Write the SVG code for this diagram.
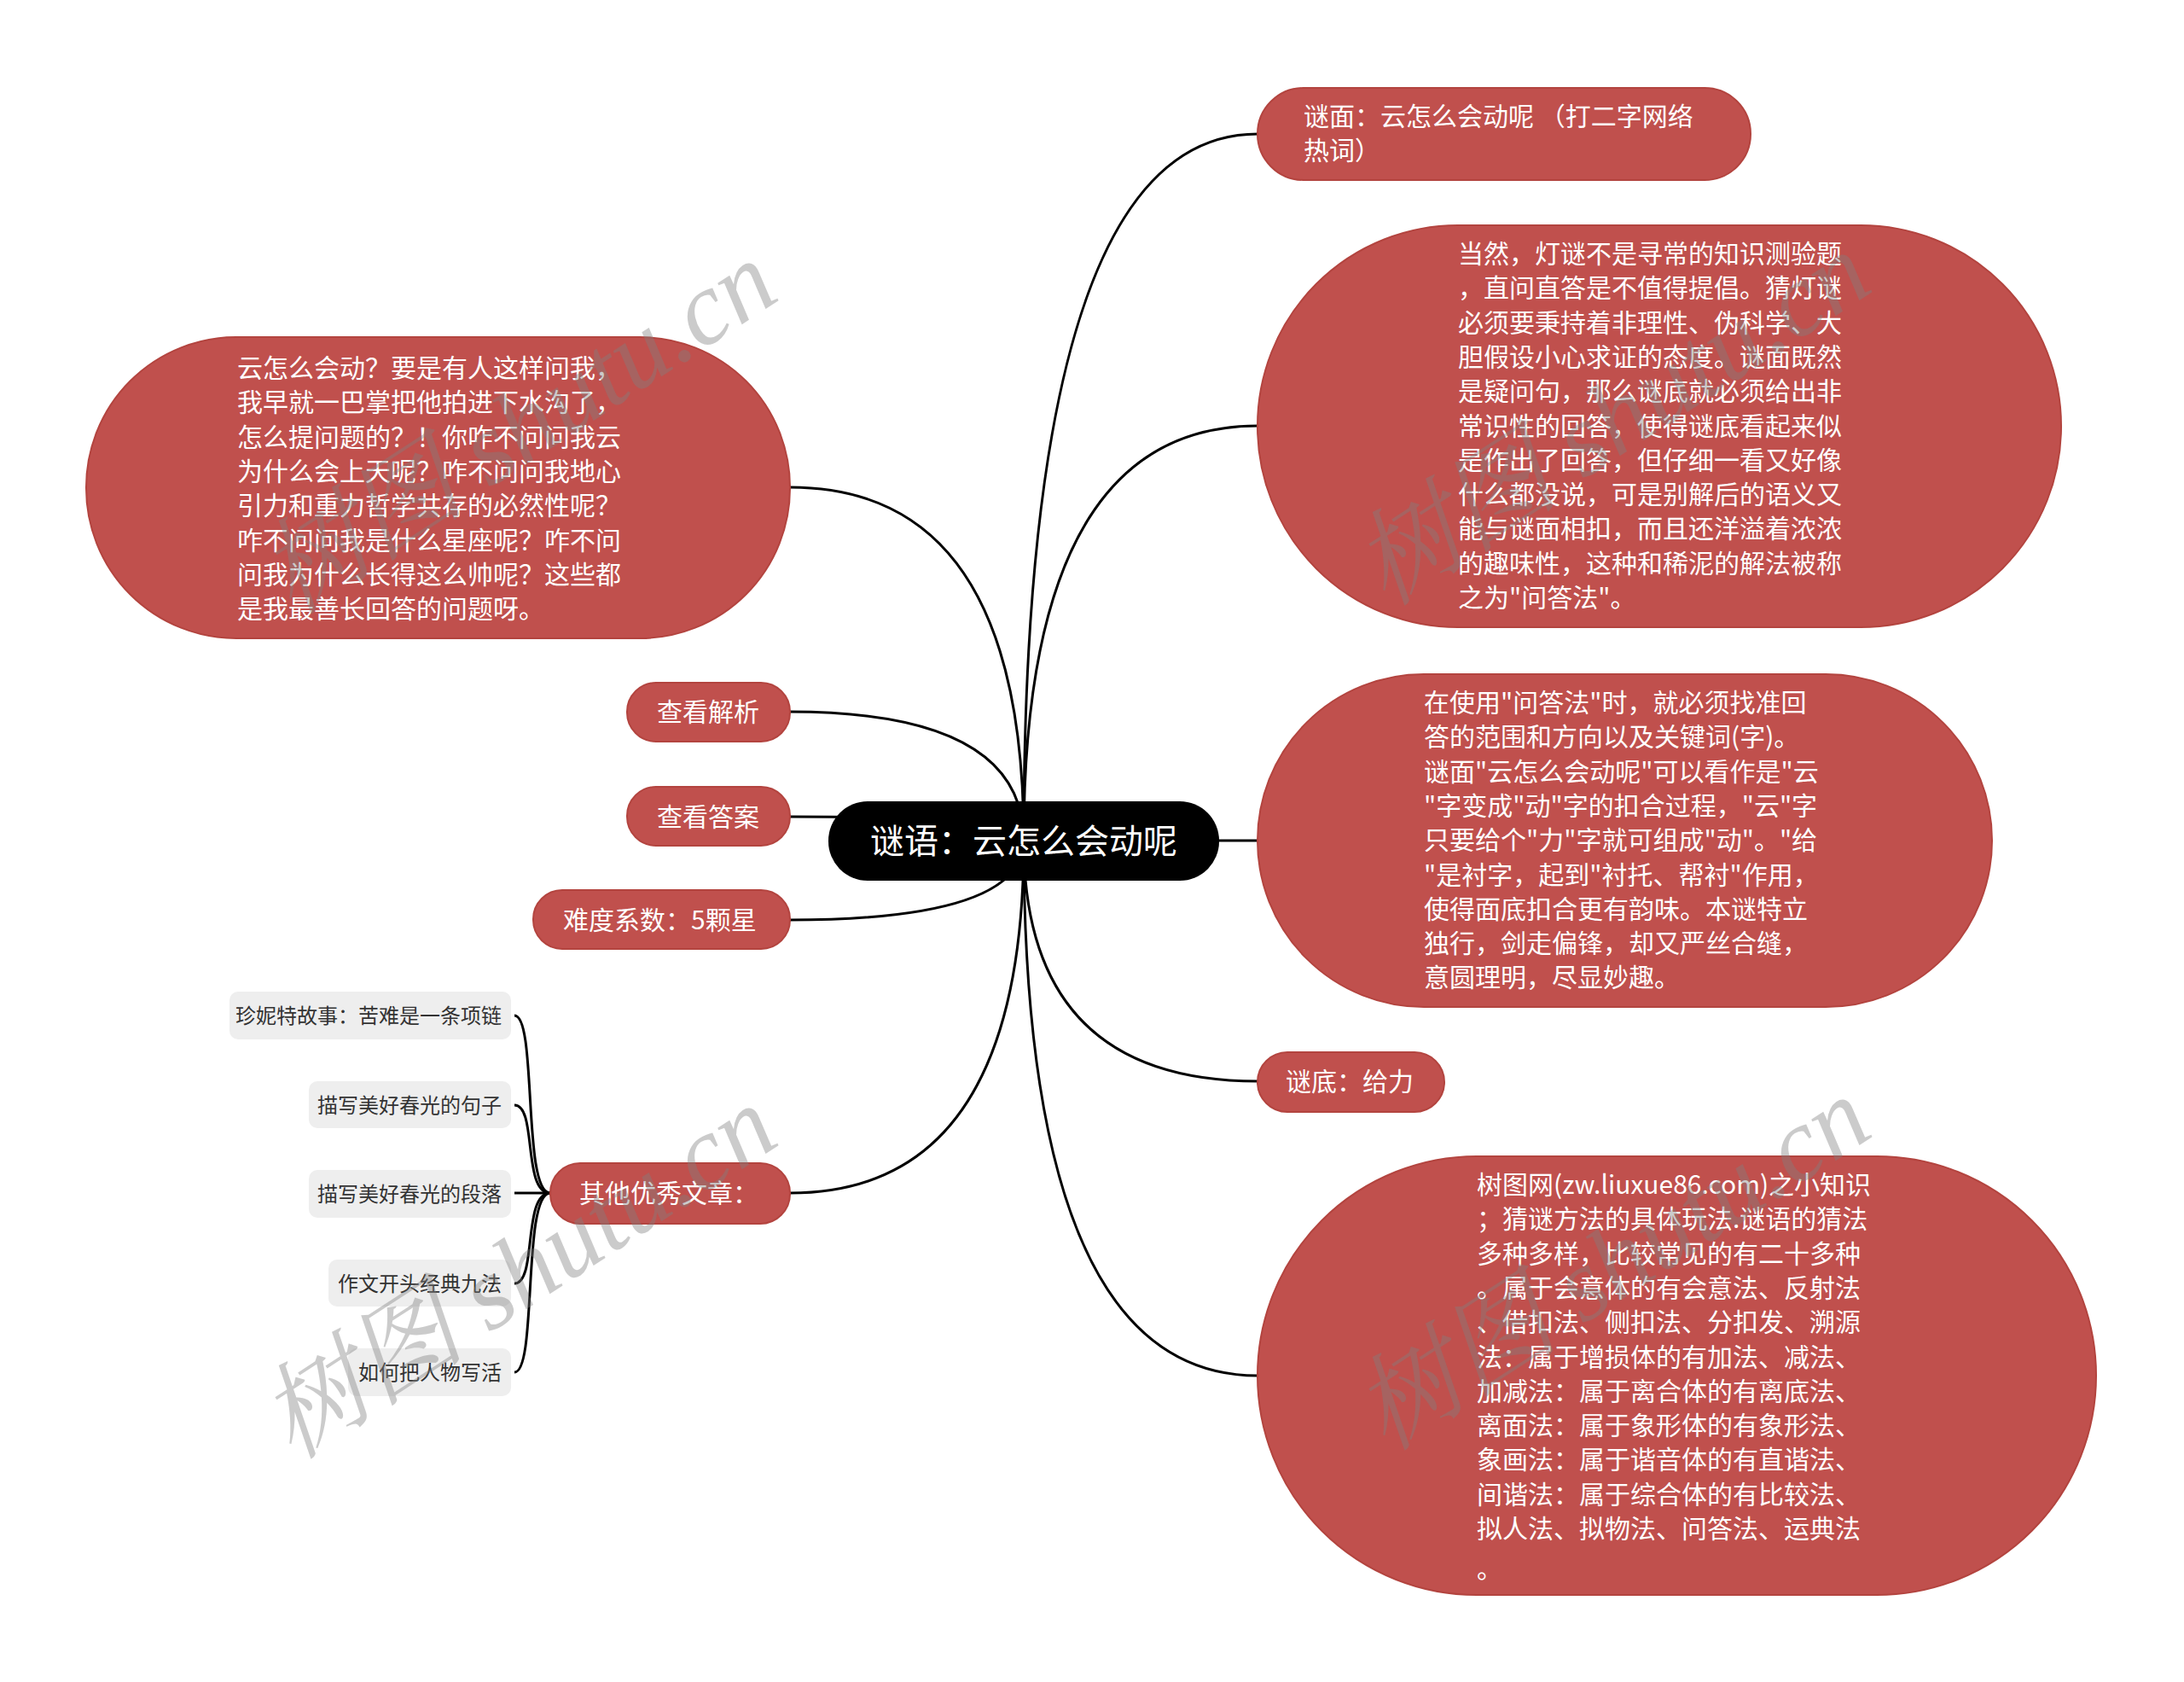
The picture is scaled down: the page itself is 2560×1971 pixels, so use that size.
<svg xmlns="http://www.w3.org/2000/svg" width="2560" height="1971" viewBox="0 0 2560 1971">
<style>
.bg{fill:#ffffff}
.red{fill:#c0504d;stroke:#b3443f;stroke-width:2}
.root{fill:#000000}
.leaf{fill:#eeeeee}
.conn{fill:none;stroke:#000000;stroke-width:3}
.t{font-family:"Noto Sans CJK SC","Microsoft YaHei","Liberation Sans",sans-serif;fill:#ffffff;font-size:30px}
.tr{font-family:"Noto Sans CJK SC","Microsoft YaHei","Liberation Sans",sans-serif;fill:#ffffff;font-size:40px}
.tl{font-family:"Noto Sans CJK SC","Microsoft YaHei","Liberation Sans",sans-serif;fill:#333333;font-size:24px}
.wm{font-family:"Liberation Serif","Noto Serif CJK SC","Noto Sans CJK SC",serif;font-style:italic;font-size:122px;fill:#808080;opacity:0.4}
</style>
<rect class="bg" x="0" y="0" width="2560" height="1971"/>
<g id="connectors">
<path class="conn" d="M1200,985 Q1200,157 1474,157"/>
<path class="conn" d="M1200,985 Q1200,499 1474,499"/>
<path class="conn" d="M1200,985 L1474,985"/>
<path class="conn" d="M1200,985 Q1200,1267 1474,1267"/>
<path class="conn" d="M1200,985 Q1200,1612 1474,1612"/>
<path class="conn" d="M1200,985 Q1200,571 926,571"/>
<path class="conn" d="M1200,985 Q1200,834 926,834"/>
<path class="conn" d="M1200,985 Q1200,957 926,957"/>
<path class="conn" d="M1200,985 Q1200,1078 926,1078"/>
<path class="conn" d="M1200,985 Q1200,1398 926,1398"/>
<path class="conn" d="M645,1398 C612,1398 630,1190 603,1190"/>
<path class="conn" d="M645,1398 C612,1398 630,1295 603,1295"/>
<path class="conn" d="M645,1398 L603,1398"/>
<path class="conn" d="M645,1398 C612,1398 630,1504 603,1504"/>
<path class="conn" d="M645,1398 C612,1398 630,1608 603,1608"/>
</g>
<g id="root">
<rect class="root" x="971" y="939" width="458" height="93" rx="46"/>
<text class="tr" x="1200" y="1000" text-anchor="middle">谜语：云怎么会动呢</text>
</g>
<g id="n-mimian">
<rect class="red" x="1474" y="103" width="578" height="108" rx="54"/>
<text class="t" x="1528" y="147">谜面：云怎么会动呢 （打二字网络</text>
<text class="t" x="1528" y="187">热词）</text>
</g>
<g id="n-dangran">
<rect class="red" x="1474" y="264" width="942" height="471" rx="235"/>
<text class="t" x="1709" y="308">当然，灯谜不是寻常的知识测验题</text>
<text class="t" x="1709" y="348.3">，直问直答是不值得提倡。猜灯谜</text>
<text class="t" x="1709" y="388.6">必须要秉持着非理性、伪科学、大</text>
<text class="t" x="1709" y="428.9">胆假设小心求证的态度。谜面既然</text>
<text class="t" x="1709" y="469.2">是疑问句，那么谜底就必须给出非</text>
<text class="t" x="1709" y="509.5">常识性的回答，使得谜底看起来似</text>
<text class="t" x="1709" y="549.8">是作出了回答，但仔细一看又好像</text>
<text class="t" x="1709" y="590.1">什么都没说，可是别解后的语义又</text>
<text class="t" x="1709" y="630.4">能与谜面相扣，而且还洋溢着浓浓</text>
<text class="t" x="1709" y="670.7">的趣味性，这种和稀泥的解法被称</text>
<text class="t" x="1709" y="711">之为"问答法"。</text>
</g>
<g id="n-shiyong">
<rect class="red" x="1474" y="790" width="861" height="390" rx="195"/>
<text class="t" x="1669" y="834">在使用"问答法"时，就必须找准回</text>
<text class="t" x="1669" y="874.3">答的范围和方向以及关键词(字)。</text>
<text class="t" x="1669" y="914.6">谜面"云怎么会动呢"可以看作是"云</text>
<text class="t" x="1669" y="954.9">"字变成"动"字的扣合过程，"云"字</text>
<text class="t" x="1669" y="995.2">只要给个"力"字就可组成"动"。"给</text>
<text class="t" x="1669" y="1035.5">"是衬字，起到"衬托、帮衬"作用，</text>
<text class="t" x="1669" y="1075.8">使得面底扣合更有韵味。本谜特立</text>
<text class="t" x="1669" y="1116.1">独行，剑走偏锋，却又严丝合缝，</text>
<text class="t" x="1669" y="1156.4">意圆理明，尽显妙趣。</text>
</g>
<g id="n-midi">
<rect class="red" x="1474" y="1233" width="219" height="70" rx="35"/>
<text class="t" x="1507" y="1278">谜底：给力</text>
</g>
<g id="n-shutu">
<rect class="red" x="1474" y="1355" width="983" height="514" rx="257"/>
<text class="t" x="1731" y="1399">树图网(zw.liuxue86.com)之小知识</text>
<text class="t" x="1731" y="1439.3">；猜谜方法的具体玩法.谜语的猜法</text>
<text class="t" x="1731" y="1479.6">多种多样，比较常见的有二十多种</text>
<text class="t" x="1731" y="1519.9">。属于会意体的有会意法、反射法</text>
<text class="t" x="1731" y="1560.2">、借扣法、侧扣法、分扣发、溯源</text>
<text class="t" x="1731" y="1600.5">法：属于增损体的有加法、减法、</text>
<text class="t" x="1731" y="1640.8">加减法：属于离合体的有离底法、</text>
<text class="t" x="1731" y="1681.1">离面法：属于象形体的有象形法、</text>
<text class="t" x="1731" y="1721.4">象画法：属于谐音体的有直谐法、</text>
<text class="t" x="1731" y="1761.7">间谐法：属于综合体的有比较法、</text>
<text class="t" x="1731" y="1802">拟人法、拟物法、问答法、运典法</text>
<text class="t" x="1731" y="1849">。</text>
</g>
<g id="n-yun">
<rect class="red" x="101" y="395" width="825" height="353" rx="176"/>
<text class="t" x="278" y="442">云怎么会动？要是有人这样问我，</text>
<text class="t" x="278" y="482.3">我早就一巴掌把他拍进下水沟了，</text>
<text class="t" x="278" y="522.6">怎么提问题的？！你咋不问问我云</text>
<text class="t" x="278" y="562.9">为什么会上天呢？咋不问问我地心</text>
<text class="t" x="278" y="603.2">引力和重力哲学共存的必然性呢？</text>
<text class="t" x="278" y="643.5">咋不问问我是什么星座呢？咋不问</text>
<text class="t" x="278" y="683.8">问我为什么长得这么帅呢？这些都</text>
<text class="t" x="278" y="724.1">是我最善长回答的问题呀。</text>
</g>
<g id="n-jiexi">
<rect class="red" x="735" y="800" width="191" height="69" rx="34"/>
<text class="t" x="830" y="845" text-anchor="middle">查看解析</text>
</g>
<g id="n-daan">
<rect class="red" x="735" y="922" width="191" height="69" rx="34"/>
<text class="t" x="830" y="968" text-anchor="middle">查看答案</text>
</g>
<g id="n-nandu">
<rect class="red" x="625" y="1043" width="301" height="69" rx="34"/>
<text class="t" x="660" y="1089">难度系数：5颗星</text>
</g>
<g id="n-qita">
<rect class="red" x="645" y="1363" width="281" height="71" rx="35"/>
<text class="t" x="679" y="1409">其他优秀文章：</text>
</g>
<g id="leaf-1">
<rect class="leaf" x="269" y="1162" width="330" height="56" rx="10"/>
<text class="tl" x="588" y="1198.5" text-anchor="end">珍妮特故事：苦难是一条项链</text>
</g>
<g id="leaf-2">
<rect class="leaf" x="362" y="1267" width="237" height="55" rx="10"/>
<text class="tl" x="588" y="1303.5" text-anchor="end">描写美好春光的句子</text>
</g>
<g id="leaf-3">
<rect class="leaf" x="362" y="1371" width="237" height="56" rx="10"/>
<text class="tl" x="588" y="1407.5" text-anchor="end">描写美好春光的段落</text>
</g>
<g id="leaf-4">
<rect class="leaf" x="385" y="1476" width="214" height="55" rx="10"/>
<text class="tl" x="588" y="1512.5" text-anchor="end">作文开头经典九法</text>
</g>
<g id="leaf-5">
<rect class="leaf" x="408" y="1580" width="191" height="56" rx="10"/>
<text class="tl" x="588" y="1616.5" text-anchor="end">如何把人物写活</text>
</g>
<g id="watermarks">
<text class="wm" x="343" y="722" transform="rotate(-33 343 722)">树图 shutu.cn</text>
<text class="wm" x="343" y="1712" transform="rotate(-33 343 1712)">树图 shutu.cn</text>
<text class="wm" x="1625" y="712" transform="rotate(-33 1625 712)">树图 shutu.cn</text>
<text class="wm" x="1625" y="1702" transform="rotate(-33 1625 1702)">树图 shutu.cn</text>
</g>
</svg>
